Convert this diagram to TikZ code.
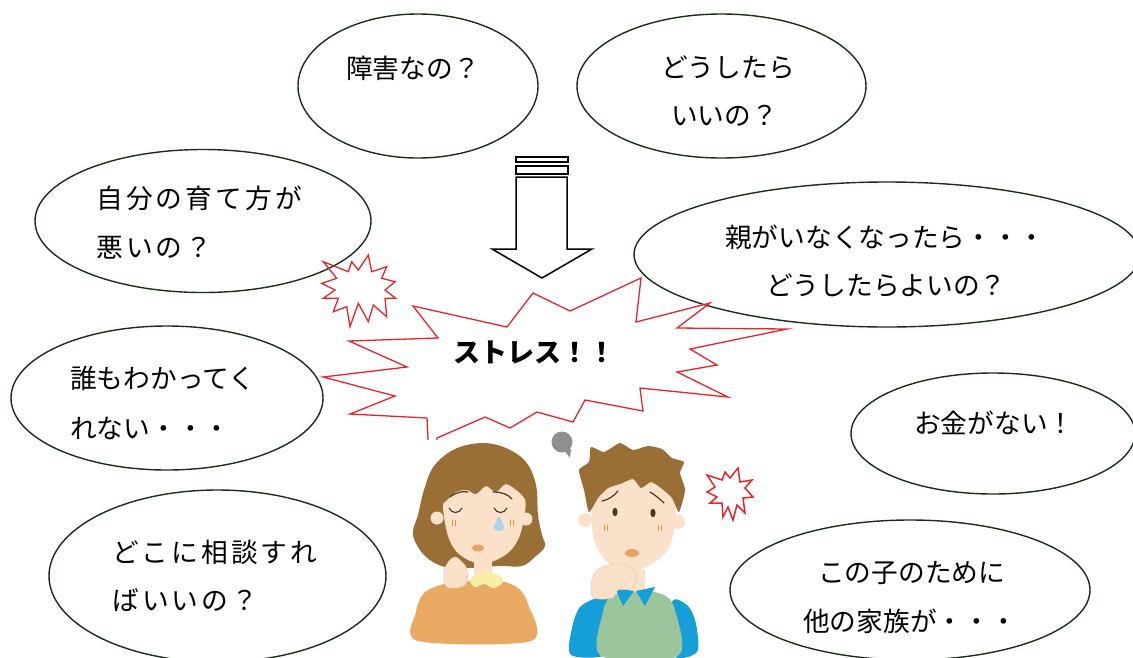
\documentclass[tikz,border=0pt]{standalone}
\usepackage{fontspec}
\setmainfont{Noto Sans CJK JP}
\usetikzlibrary{shapes.geometric}

\definecolor{ringline}{HTML}{1C2C1C}
\definecolor{burstred}{HTML}{E8242B}
\definecolor{hairbrown}{HTML}{9A6F36}
\definecolor{skin}{HTML}{FBE1CA}
\definecolor{skinline}{HTML}{EBCBB0}
\definecolor{sweater}{HTML}{EAA962}
\definecolor{collaryel}{HTML}{F7EEA6}
\definecolor{vestgreen}{HTML}{9DC59C}
\definecolor{shirtblue}{HTML}{149FD9}
\definecolor{mouthorange}{HTML}{EBA25E}
\definecolor{cheek}{HTML}{E49A3A}
\definecolor{teal}{HTML}{A9D4EE}
\definecolor{eyebrown}{HTML}{4B3421}
\definecolor{bubblegrey}{HTML}{8F8F92}

\begin{document}
\begin{tikzpicture}[x=1pt,y=-1pt,
  bubble/.style={ellipse, draw=ringline, line width=1.4pt, inner sep=0pt},
  say/.style={inner sep=0pt, anchor=west, font=\fontsize{26.7}{30}\selectfont},
  wide/.style={say, font=\fontsize{26.7}{30}\selectfont\addfontfeature{LetterSpace=12}},
  burst/.style={draw=burstred, line width=1.3pt, line join=miter}]
\useasboundingbox (0,0) rectangle (1133,657);
\clip (0,0) rectangle (1133,657);

% thought ellipses
\node[bubble, minimum width=240pt, minimum height=144pt] (q1) at (418,86) {};
\node[bubble, minimum width=289pt, minimum height=144pt] (q2) at (721.5,86) {};
\node[bubble, minimum width=336pt, minimum height=143pt] (q3) at (203,221) {};
\node[bubble, minimum width=506pt, minimum height=145pt] (q4) at (887,254.5) {};
\node[bubble, minimum width=312pt, minimum height=144pt] (q5) at (167,398) {};
\node[bubble, minimum width=284pt, minimum height=121pt] (q6) at (993,433.5) {};
\node[bubble, minimum width=337pt, minimum height=172pt] (q7) at (217.5,576) {};
\node[bubble, minimum width=360pt, minimum height=140pt] (q8) at (910,590) {};

% texts of the ellipses
\node[say] (t1) at (346,68) {障害なの？};
\node[say] (t2a) at (661,67) {どうしたら};
\node[say] (t2b) at (671,116) {いいの？};
\node[wide] (t3a) at (96,198) {自分の育て方が};
\node[wide] (t3b) at (96,248) {悪いの？};
\node[say] (t4a) at (725,237) {親がいなくなったら・・・};
\node[say] (t4b) at (766,285) {どうしたらよいの？};
\node[say] (t5a) at (70,378) {誰もわかってく};
\node[say] (t5b) at (70,428) {れない・・・};
\node[say] (t6) at (914,423) {お金がない！};
\node[wide] (t7a) at (112,552) {どこに相談すれ};
\node[wide] (t7b) at (112,600) {ばいいの？};
\node[say] (t8a) at (818,573) {この子のために};
\node[say] (t8b) at (803,621) {他の家族が・・・};

% hollow arrow with two bars
\draw[line width=1.5pt] (516,157) rectangle (568,162);
\draw[line width=1.5pt] (516,166) rectangle (568,174);
\draw[line width=1.5pt, line join=miter]
  (516,177) -- (567,177) -- (567,249) -- (592,249) -- (542,278)
  -- (492,249) -- (516,249) -- cycle;

% big stress burst
\draw[burst] (413,306) -- (507,327) -- (533,293) -- (570,311) -- (641,278)
  -- (636,322) -- (710,303) -- (677,328) -- (787,329) -- (690,349)
  -- (717,365) -- (677,372) -- (728,397) -- (640,388) -- (643,411)
  -- (585,400) -- (573,422) -- (537,412) -- (510,428) -- (485,417)
  -- (437,438) -- (436,470) -- (429,470) -- (428,440) -- (427,418)
  -- (350,414) -- (395,396) -- (323,377) -- (407,367) -- (349,341)
  -- (438,338) -- cycle;
\node[inner sep=0pt, font=\fontsize{27}{30}\selectfont\bfseries] (stress) at (534,352) {ストレス！！};

% small bursts
\draw[burst] (323.3,261.7) -- (348.3,271.7) -- (351.7,261.7) -- (358.3,270)
  -- (368.3,255) -- (371.7,271.7) -- (386.7,266.7) -- (381.7,278.3)
  -- (395,281.7) -- (385,290) -- (395.7,298.3) -- (385,298.3)
  -- (386.7,316.7) -- (373.3,305) -- (368.3,321.7) -- (358.3,303.3)
  -- (350,326.7) -- (346.7,306.7) -- (333.3,311.7) -- (338.3,298.3)
  -- (323.3,298.3) -- (335,290) -- (321.7,283.3) -- (336.7,278.3) -- cycle;
\draw[burst, line width=1.5pt] (707,475) -- (722,480) -- (725,472) -- (730,478)
  -- (738,468) -- (740,482) -- (752,480) -- (745,488) -- (753,497)
  -- (743,498) -- (745,513) -- (737,505) -- (733,520) -- (728,507)
  -- (723,517) -- (722,503) -- (710,503) -- (717,497) -- (707,492)
  -- (715,487) -- cycle;

% picture area of the two parents
\fill[white] (410,440) rectangle (700,657);

% ---- mother ----
\fill[hairbrown] plot[smooth cycle, tension=0.6] coordinates {
  (482,443) (506,448) (526,462) (536,485) (538,515) (542,535) (545,546)
  (536,556) (522,566) (500,566) (470,568) (445,567) (425,556) (413,535)
  (418,515) (424,490) (434,466) (455,449)};
\fill[skin] (437,518) circle (6.5);
\fill[skin] (526,519) circle (6.5);
\fill[skin] plot[smooth cycle, tension=0.6] coordinates {
  (445,495) (446,528) (456,551) (476,563) (494,561) (512,549) (522,528)
  (524,495) (500,478) (470,478)};
% bangs
\fill[hairbrown] plot[smooth cycle, tension=0.5] coordinates {
  (440,505) (446,482) (465,463) (492,460) (516,470) (528,488) (530,505)
  (520,493) (506,484) (496,492) (486,486) (476,494) (467,490) (456,492)
  (447,500)};
% brows, eyes
\draw[eyebrown, line width=1.2pt, line cap=round] (450,497) .. controls (456,492) and (463,491) .. (468,492);
\draw[eyebrown, line width=1.2pt, line cap=round] (493,492) .. controls (501,492) and (508,494) .. (512,499);
\draw[eyebrown, line width=1.1pt, line cap=round] (449,508) .. controls (452,514) and (459,514) .. (462,508);
\draw[eyebrown, line width=1.1pt, line cap=round] (494,508) .. controls (497,514) and (504,514) .. (507,508);
\fill[teal] (499,516) .. controls (496,522) and (494,525) .. (494,528)
  .. controls (494,532) and (504,532) .. (504,528)
  .. controls (504,525) and (502,522) .. (499,516);
\draw[cheek, line width=0.9pt] (452,520) -- (452,526) (455,520) -- (455,526);
\draw[cheek, line width=0.9pt] (510,520) -- (510,526) (513,520) -- (513,526);
\fill[mouthorange] (478,548) ellipse (6 and 3.5);
% neck, collar, sweater, hand
\fill[skin] (474,558) rectangle (492,580);
\fill[sweater] plot[smooth cycle, tension=0.5] coordinates {
  (418,641) (416,612) (424,593) (444,584) (470,581) (500,581) (518,588)
  (528,604) (531,641)};
\fill[collaryel] plot[smooth cycle, tension=0.6] coordinates {
  (470,580) (478,573) (488,572) (500,576) (503,582) (494,588) (484,584)
  (475,587)};
\fill[skin, draw=skinline, line width=0.6pt] plot[smooth cycle, tension=0.6] coordinates {
  (447,587) (444,572) (449,561) (455,557) (461,561) (467,570) (465,585)};

% ---- father ----
\fill[bubblegrey] (562,442) circle (10.5);
\fill[bubblegrey] (564,450) -- (570,458) -- (571,449) -- cycle;
% body
\fill[shirtblue] plot[smooth cycle, tension=0.5] coordinates {
  (571,655) (572,628) (580,607) (597,598) (611,598) (612,630) (606,655)};
\fill[shirtblue] plot[smooth cycle, tension=0.5] coordinates {
  (673,655) (672,602) (688,606) (696,624) (697,652)};
\fill[vestgreen] plot[smooth cycle, tension=0.5] coordinates {
  (601,656) (603,612) (612,596) (638,590) (664,595) (675,610) (678,656)};
\fill[skin] (620,570) rectangle (645,592);
\fill[shirtblue] (615,588) -- (634,591) -- (623,606) -- cycle;
\fill[shirtblue] (636,591) -- (655,587) -- (645,606) -- cycle;
% head
\fill[skin] (585,520) circle (7);
\fill[skin] (678,522) circle (7);
\fill[skin] plot[smooth cycle, tension=0.6] coordinates {
  (592,495) (593,535) (605,560) (628,571) (652,564) (670,545) (676,510)
  (674,478) (635,462) (597,472)};
% spiky hair
\fill[hairbrown] plot[smooth cycle, tension=0.35] coordinates {
  (589,512) (584,490) (579,470) (589,462) (591,447) (604,452) (620,443)
  (633,450) (648,446) (662,449) (672,458) (684,462) (680,473) (685,490)
  (679,512) (672,498) (661,488) (651,482) (641,488) (633,479) (620,484)
  (608,488) (598,498)};
% brows, eyes
\draw[eyebrown, line width=1.2pt, line cap=round] (602,501) .. controls (608,500) and (614,496) .. (618,491);
\draw[eyebrown, line width=1.2pt, line cap=round] (650,492) .. controls (655,495) and (660,499) .. (664,503);
\fill[eyebrown] (615,512) ellipse (2.6 and 4.2);
\fill[eyebrown] (653,513) ellipse (2.6 and 4.2);
\draw[cheek, line width=0.9pt] (604,525) -- (604,531) (607,525) -- (607,531);
\draw[cheek, line width=0.9pt] (658,525) -- (658,531) (661,525) -- (661,531);
\fill[mouthorange] (632,553) ellipse (7 and 4);
% hand at the chin
\fill[skin, draw=skinline, line width=0.6pt] plot[smooth cycle, tension=0.6] coordinates {
  (593,597) (592,580) (599,569) (614,564) (629,566) (636,575) (632,588)
  (618,590) (612,598)};
\end{tikzpicture}
\end{document}
